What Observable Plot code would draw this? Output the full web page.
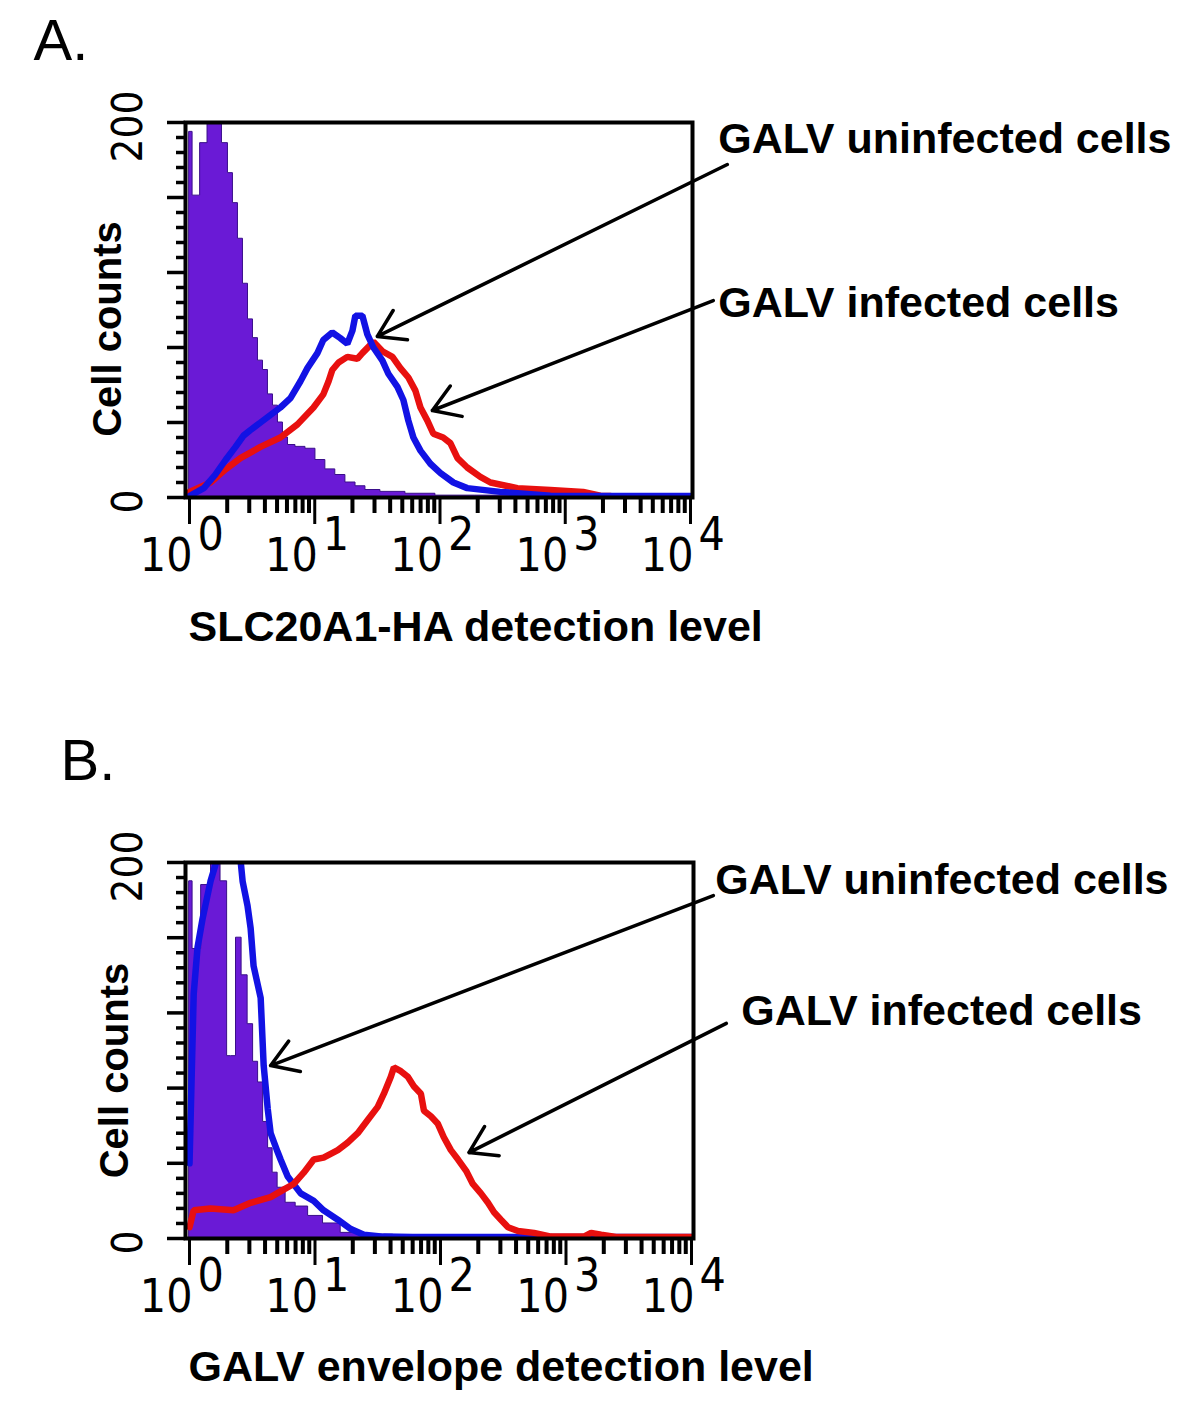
<!DOCTYPE html>
<html><head><meta charset="utf-8">
<script src="https://cdn.jsdelivr.net/npm/d3@7"></script>
<script src="https://cdn.jsdelivr.net/npm/@observablehq/plot@0.6"></script>
<style>
html,body{margin:0;padding:0;background:#fff;}
#wrap{position:relative;width:1200px;height:1402px;overflow:hidden;background:#fff;}
#panelA,#panelB{position:absolute;left:0;}
#panelA{top:0;} #panelB{top:700px;}
svg{overflow:visible;}
</style></head>
<body><div id="wrap"><div id="panelA"></div><div id="panelB"></div></div>
<script>
// ---------- axis definitions ----------
const decades = [1, 10, 100, 1000, 10000];
const exponents = ["0", "1", "2", "3", "4"];
const countLabels = [0, 200];
const countMajorTicks = [0, 40, 80, 120, 160, 200];
const countMinorTicks = d3.range(0, 201, 8).filter(v => v % 40 !== 0);
const xMinorTicks = [1, 10, 100, 1000].flatMap(d => [2, 3, 4, 5, 6, 7, 8, 9].map(m => d * m));

// ---------- Panel A data: [fluorescence, cell count] ----------
const aControl = [[1.0,195],[1.12,161],[1.32,189],[1.47,215],[1.70,215],[1.94,189],[2.12,173],[2.33,157],[2.55,138],[2.80,114],[3.07,95],[3.36,85],[3.69,73],[4.04,68],[4.43,55],[4.86,49],[5.32,40],[5.84,32],[6.40,28],[7.69,27],[9.24,26],[11.1,20],[13.3,15],[16.0,12],[19.3,8],[23.2,6],[27.8,4],[40.2,3],[69.8,2],[121,1],[303,1],[1000,0.5],[10000,0.5]];
const aInfected = [[1.0,3],[1.47,8],[1.94,15],[2.55,21],[3.69,27],[5.32,32],[7.28,39],[9.77,48],[11.7,55],[12.9,62],[13.8,68],[15.5,72],[18.2,75],[21.9,74],[24.0,77],[29.4,83],[34.7,78],[41.7,75],[48.3,69],[55.9,64],[63.6,57],[69.8,48],[79.3,41],[88.5,34],[106,32],[121,29],[138,21],[165,16],[210,11],[253,8],[415,5],[761,4],[1390,3],[1905,1],[2290,0.8]];
const aUninfected = [[1.0,0.8],[1.3,5],[1.6,12],[1.94,20],[2.33,27],[2.70,33],[3.07,36],[3.69,40],[4.43,44],[5.32,48],[6.40,53],[7.69,62],[8.74,69],[10.5,77],[11.7,84],[13.8,88],[16.0,85],[18.2,82],[20.0,89],[21.1,97],[24.0,97],[26.3,87],[29.4,80],[34.7,73],[38.7,66],[45.7,59],[51.0,52],[55.9,41],[61.3,32],[69.8,25],[83.8,18],[101,13],[128,8],[165,5],[303,3],[761,1],[1000,0.8],[10000,0.8]];

// ---------- Panel B data ----------
const bControl = [[1.0,190],[1.12,154],[1.37,188],[1.61,215],[1.94,190],[2.05,97],[2.24,97],[2.46,160],[2.75,140],[3.07,114],[3.36,94],[3.69,83],[4.04,62],[4.43,48],[4.77,35],[5.32,27],[6.40,19],[7.69,17],[10.1,12],[13.3,8],[19.3,3],[29.4,2],[60,1],[200,0.5],[1000,0],[10000,0]];
const bUninfected = [[1.0,40],[1.08,130],[1.16,155],[1.27,170],[1.47,190],[1.77,208],[2.05,215],[2.46,212],[2.65,190],[2.90,177],[3.07,165],[3.24,145],[3.69,128],[3.90,92],[4.20,69],[4.43,56],[5.04,46],[5.32,42],[6.06,33],[7.69,24],[9.77,20],[11.7,15],[15.2,10],[19.3,5],[24.5,2],[35,1],[60,0.8],[10000,0.8]];
const bInfected = [[1.0,6],[1.08,15],[1.47,16],[2.24,15],[3.07,19],[4.43,22],[5.62,26],[6.76,29],[8.13,35],[9.77,42],[11.7,43],[15.2,47],[18.2,51],[21.9,56],[26.3,63],[31.6,70],[35.4,77],[40.2,86],[42.5,91],[48.3,89],[54.9,86],[61.3,81],[69.8,77],[73.8,68],[83.8,65],[95.3,61],[106,54],[121,47],[138,42],[160,36],[181,29],[210,24],[239,19],[267,14],[303,10],[345,6],[415,4],[556,3],[761,1],[1390,1],[1585,3],[1905,2],[2500,0.8],[10000,0.8]];

// ---------- annotations (data units) ----------
const aNotes = [
  {label: "GALV uninfected cells", x: 16670, y: 190.9, fromX: 19670, fromY: 177.6, toX: 31.6, toY: 85.9},
  {label: "GALV infected cells", x: 16670, y: 103.5, fromX: 15200, fromY: 105, toX: 86.9, toY: 46.4}
];
const bNotes = [
  {label: "GALV uninfected cells", x: 15490, y: 190.4, fromX: 14930, fromY: 182.4, toX: 4.43, toY: 92},
  {label: "GALV infected cells", x: 24950, y: 120.7, fromX: 18950, fromY: 114.4, toX: 168.5, toY: 45.7}
];

const BOLD = '"Liberation Sans", Arial, Helvetica, sans-serif';
const NARROW = '"Liberation Sans Narrow", "DejaVu Sans Condensed", "Arial Narrow", sans-serif';
const BLUE = "#1212e4";
const RED = "#e8100f";
const PURPLE = "#6a1ad6";

function panel(cfg) {
  const fx = d => d[0], fy = d => d[1];
  const lineMarks = cfg.lines.map(l => Plot.lineY(l.data, {x: fx, y: fy, stroke: l.color, strokeWidth: 6.5, strokeLinejoin: "miter", clip: true}));
  const T = {fill: "black", lineAnchor: "middle"};
  return Plot.plot({
    width: 1200,
    height: cfg.height,
    marginLeft: 185,
    marginRight: cfg.marginRight,
    marginTop: cfg.marginTop,
    marginBottom: cfg.marginBottom,
    style: {background: "transparent", overflow: "visible"},
    x: {type: "log", domain: [1, 10000], insetLeft: 4, insetRight: 2},
    y: {domain: [0, 200]},
    marks: [
      Plot.areaY(cfg.control, {x: fx, y: fy, curve: "step", fill: PURPLE, stroke: "#3a0f8a", strokeWidth: 1, clip: true}),
      ...lineMarks,
      Plot.frame({stroke: "black", strokeWidth: 4}),
      Plot.axisY(countMinorTicks, {anchor: "left", tickSize: 9, strokeWidth: 3.5, tickFormat: () => "", label: null}),
      Plot.axisY(countMajorTicks, {anchor: "left", tickSize: 18, strokeWidth: 3.5, tickFormat: () => "", label: null}),
      Plot.axisX(xMinorTicks, {anchor: "bottom", tickSize: 16, strokeWidth: 4, tickFormat: () => "", label: null}),
      Plot.axisX(decades, {anchor: "bottom", tickSize: 27, strokeWidth: 3, tickFormat: () => "", label: null}),
      Plot.text(countLabels, {...T, y: d => d, text: d => String(d), frameAnchor: "left", textAnchor: "middle", dx: -57, dy: 4, rotate: -90, fontSize: 42, fontFamily: NARROW}),
      Plot.text(decades, {...T, x: d => d, text: () => "10", frameAnchor: "bottom", dx: 3, dy: 59, textAnchor: "end", fontSize: 46, fontFamily: NARROW}),
      Plot.text(decades, {...T, x: d => d, text: (d, i) => exponents[i], frameAnchor: "bottom", dx: 8, dy: 38, textAnchor: "start", fontSize: 46, fontFamily: NARROW}),
      Plot.text(["Cell counts"], {...T, text: d => d, frameAnchor: "left", textAnchor: "middle", dx: cfg.yTitleDx, dy: cfg.yTitleDy, rotate: -90, fontSize: 40, fontWeight: "bold", fontFamily: BOLD}),
      Plot.text([cfg.xTitle], {...T, text: d => d, frameAnchor: "bottom-left", dx: 3, dy: cfg.xTitleDy, textAnchor: "start", fontSize: 43, fontWeight: "bold", fontFamily: BOLD}),
      Plot.text([cfg.letter], {...T, text: d => d, frameAnchor: "top-left", dx: cfg.letterDx, dy: cfg.letterDy, textAnchor: "start", fontSize: 58, fontFamily: BOLD}),
      Plot.arrow(cfg.notes, {x1: "fromX", y1: "fromY", x2: "toX", y2: "toY", stroke: "black", strokeWidth: 3.5, headLength: 13, headAngle: 65}),
      Plot.text(cfg.notes, {...T, x: "x", y: "y", text: "label", textAnchor: "start", fontSize: 43, fontWeight: "bold", fontFamily: BOLD})
    ]
  });
}

document.getElementById("panelA").append(panel({
  height: 700, marginTop: 122, marginBottom: 203, marginRight: 508,
  control: aControl,
  lines: [{data: aInfected, color: RED}, {data: aUninfected, color: BLUE}],
  notes: aNotes,
  xTitle: "SLC20A1-HA detection level", xTitleDy: 130,
  yTitleDx: -77, yTitleDy: 19,
  letter: "A.", letterDx: -152, letterDy: -81
}));

document.getElementById("panelB").append(panel({
  height: 702, marginTop: 162, marginBottom: 164, marginRight: 507,
  control: bControl,
  lines: [{data: bUninfected, color: BLUE}, {data: bInfected, color: RED}],
  notes: bNotes,
  xTitle: "GALV envelope detection level", xTitleDy: 129,
  yTitleDx: -70, yTitleDy: 20,
  letter: "B.", letterDx: -125, letterDy: -101
}));
</script>
</body></html>
